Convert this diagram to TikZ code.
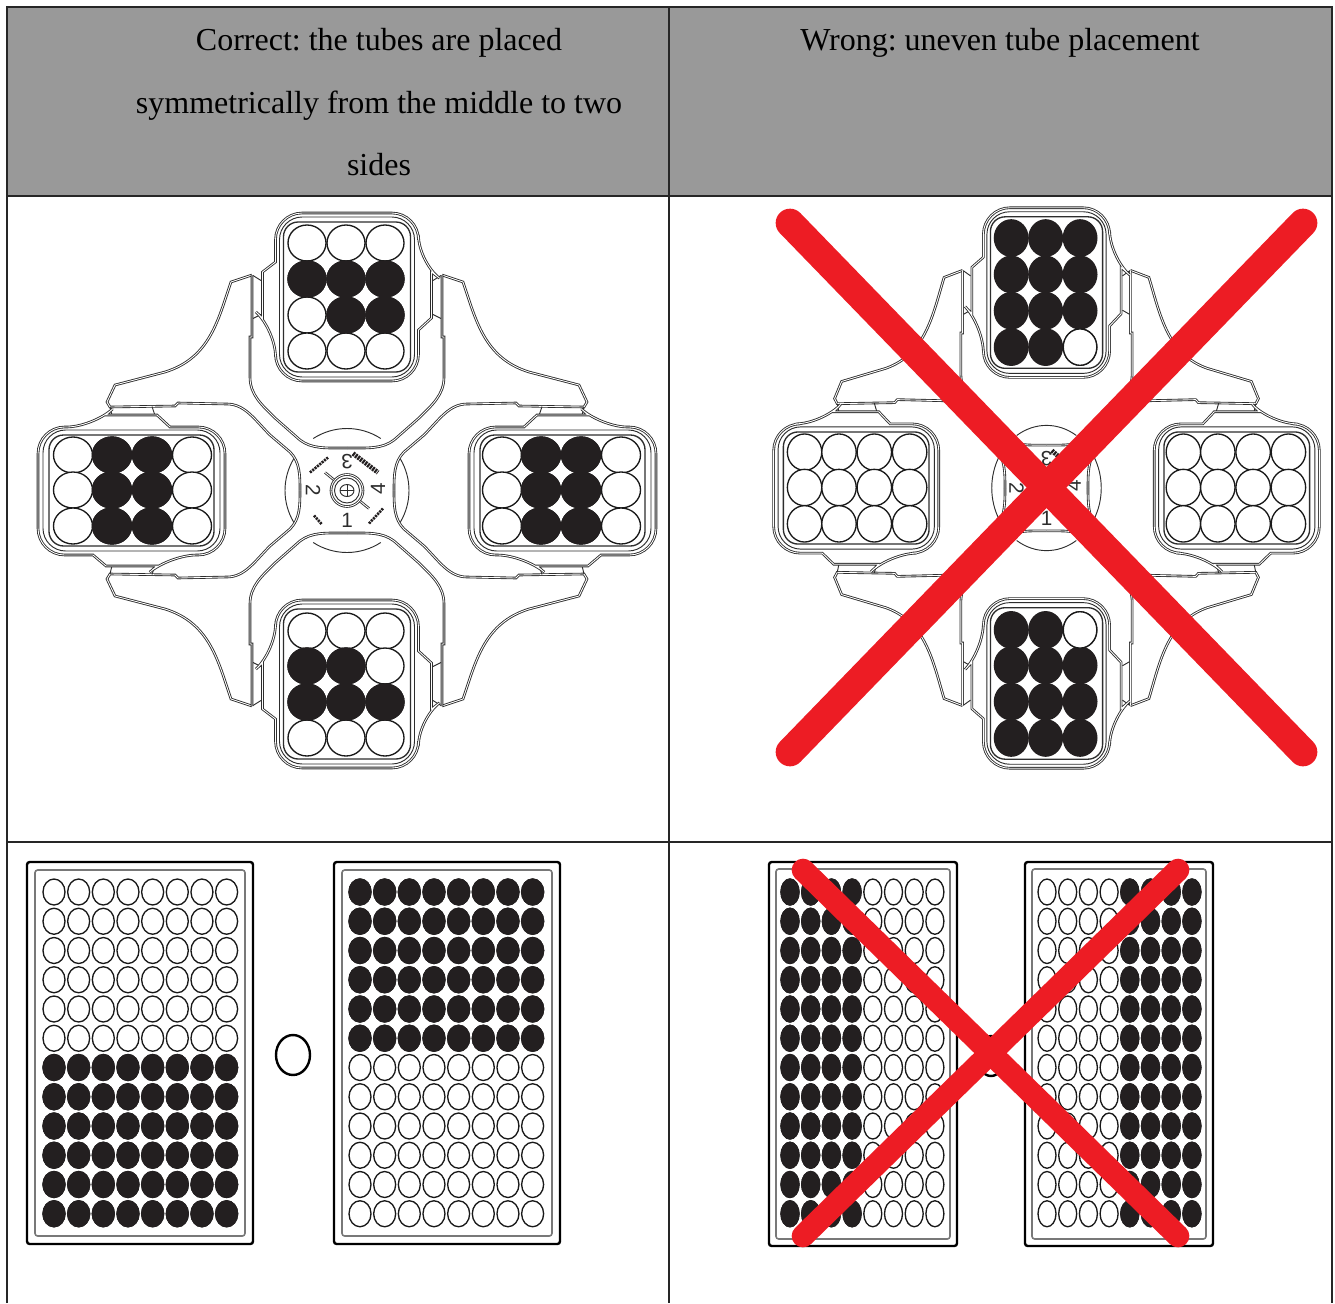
\documentclass[tikz,border=0pt]{standalone}
\usepackage{fontspec}
\setmainfont{Liberation Serif}
\setsansfont{Liberation Sans}
\definecolor{tableGray}{RGB}{153, 153, 153}
\definecolor{crossRed}{RGB}{237, 28, 36}
\definecolor{wellBlack}{RGB}{35, 31, 32}
\definecolor{rotorLine}{RGB}{45, 45, 45}
\definecolor{plateGray}{RGB}{120, 120, 120}
\tikzset{
  rule/.style={draw=black!85, line width=1.1pt},
  heading/.style={font=\fontsize{24}{47}\selectfont\frenchspacing, align=center, anchor=north, inner sep=0pt},
  rotorpath/.style={draw=rotorLine, line width=0.65pt, double=white, double distance=0.65pt},
  rotorthin/.style={draw=rotorLine, line width=0.7pt},
  rotorinner/.style={draw=rotorLine, line width=1pt},
  wellopen/.style={draw=black!90, fill=white, line width=1pt},
  wellfull/.style={draw=wellBlack, fill=wellBlack, line width=1pt},
  hubdigit/.style={font=\sffamily\fontsize{15.5}{16}\selectfont, text=rotorLine, inner sep=0pt},
  hubmark/.style={draw=wellBlack, line width=2pt, dash pattern=on 1.6pt off 0.7pt},
  plateouter/.style={draw=black, line width=1.8pt, rounded corners=2pt},
  plateinner/.style={draw=plateGray, line width=1.2pt, rounded corners=2pt},
  bigcross/.style={draw=crossRed, line width=21.5pt, line cap=round},
  smallcross/.style={draw=crossRed, line width=17pt, line cap=round}
}
\newcommand{\rotorbody}[1]{%
  \foreach \sx/\sy in {1/1,-1/1,1/-1,-1/-1} {
    \begin{scope}[xscale=\sx, yscale=\sy]
      \draw[rotorpath] (-95,-215.5) -- (-116,-208.5) .. controls (-129,-170.5) and (-137,-132.5) .. (-182,-118.5)
        -- (-232,-105.5) -- (-240,-88.5) -- (-237,-83.5) -- (-172,-84.5) -- (-169,-87.5) -- (-120,-86.5)
        .. controls (-102,-86.5) and (-92,-70.5) .. (-77,-55.5) -- (-57,-38.5) .. controls (-47,-28.5) and (-47,-15) .. (-47,0);
      \draw[rotorpath] (-95,-215.5) -- (-95,-153.5) -- (-97,-153.5) -- (-97,-113.5)
        .. controls (-97,-95.5) and (-85,-85.5) .. (-72,-72.5) -- (-47,-50.5) .. controls (-35,-41.5) and (-22,-42.5) .. (0,-42.5);
      \draw[rotorthin] (-94,-215) -- (-86,-210) (-94,-172) -- (-86,-176) (-237,-83.5) -- (-235,-75) (-195,-84) -- (-192,-75);
    \end{scope}
  }
  \draw[rotorthin] (0,0) ++(57:62) arc[start angle=57, end angle=123, radius=62];
  \draw[rotorthin] (0,0) ++(237:62) arc[start angle=237, end angle=303, radius=62];
  \draw[rotorthin] (0,0) ++(149:62) arc[start angle=149, end angle=211, radius=62];
  \draw[rotorthin] (0,0) ++(-31:62) arc[start angle=-31, end angle=31, radius=62];
  \foreach \sy in {1,-1} {
    \begin{scope}[yscale=\sy]
      \draw[rotorpath, fill=white] (-71.5,-228.5) [rounded corners=20pt] -- (-71.5,-277.5) -- (71.5,-277.5) -- (71.5,-228.5) [sharp corners]
        -- (84.5,-218.5) -- (84.5,-172.5) -- (71.5,-160.5) [rounded corners=20pt] -- (71.5,-109.5) -- (-71.5,-109.5) -- (-71.5,-160.5) [sharp corners]
        -- (-84.5,-172.5) -- (-84.5,-218.5) -- cycle;
      \draw[rotorthin, rounded corners=17pt] (-67.5,-273.5) rectangle (67.5,-113.5);
      \draw[rotorinner, rounded corners=11pt] (-63.5,-268.5) rectangle (63.5,-118.5);
    \end{scope}
  }
  \foreach \sx in {1,-1} {
    \begin{scope}[xscale=\sx]
      \draw[rotorpath, fill=white] (-254,-63.5) -- (-241,-75.5) -- (-190,-75.5) -- (-177,-63.5) [rounded corners=20pt]
        -- (-122,-63.5) -- (-122,64.5) -- (-177,64.5) [sharp corners] -- (-190,75.5) -- (-241,75.5) -- (-254,64.5) [rounded corners=20pt]
        -- (-309,64.5) -- (-309,-63.5) -- cycle;
      \draw[rotorthin, rounded corners=17pt] (-304,-60.5) rectangle (-127,60.5);
      \draw[rotorinner, rounded corners=11pt] (-298,-55.5) rectangle (-133,55.5);
    \end{scope}
  }
  \draw[rotorpath] (-22,-18) -- (22,18);
  \draw[rotorpath, fill=white] (0,0) circle[radius=16];
  \draw[rotorthin] (0,0) circle[radius=12.5];
  \draw[rotorthin] (0,0) ellipse[x radius=7, y radius=6];
  \draw[rotorthin] (-7,0) -- (7,0) (0,-6) -- (0,6);
  \node[hubdigit, rotate=180] (#1three) at (0,-29) {3};
  \node[hubdigit, rotate=-90] (#1two) at (-34,0) {2};
  \node[hubdigit] (#1one) at (0,30) {1};
  \node[hubdigit, rotate=90] (#1four) at (31,-2) {4};
  \draw[hubmark] (-37,-18) -- (-19,-33);
  \draw[hubmark, line width=3.5pt] (6,-37) -- (31,-18);
  \draw[hubmark] (22,33) -- (36,18);
  \draw[hubmark] (-33,25) -- (-25,34);
}
\newcommand{\wellgrid}[6]{%
  \foreach \c in {#4} {
    \foreach \r in {#5} {
      \draw[#6] (#1+\c*#2, 892+\r*29.25) ellipse[x radius=#3, y radius=13];
    }
  }
}
\begin{document}
\begin{tikzpicture}[x=0.75pt, y=-0.75pt]
  \useasboundingbox (0,0) rectangle (1335,1303);
  \fill[tableGray] (7,7) rectangle (1332,196);
  \draw[rule] (7,1303) -- (7,7) -- (1332,7) -- (1332,1303);
  \draw[rule] (669,7) -- (669,1303);
  \draw[rule] (7,196) -- (1332,196);
  \draw[rule] (7,842) -- (1332,842);
  \node[heading] (correct) at (379,28) {Correct: the tubes are placed\\symmetrically from the middle to two\\sides};
  \node[heading] (wrong) at (1000,28) {Wrong: uneven tube placement};

  \begin{scope}[shift={(347,490.5)}]
    \rotorbody{lf}
    \foreach \x in {-40,-1,38} {
      \foreach \y in {-247.5,-211.5,-175.5,-139.5,140.5,175.5,211.5,247.5} {
        \draw[wellopen] (\x,\y) ellipse[x radius=19, y radius=18];
      }
    }
    \foreach \x/\y in {-40/-211.5,-1/-211.5,38/-211.5,-1/-175.5,38/-175.5,-40/175.5,-1/175.5,-40/211.5,-1/211.5,38/211.5} {
      \draw[wellfull] (\x,\y) ellipse[x radius=19, y radius=18];
    }
    \foreach \x in {-274,-235,-195,-155,155,194,234,274} {
      \foreach \y in {-35.5,-0.5,35.5} {
        \draw[wellopen] (\x,\y) ellipse[x radius=19.5, y radius=18];
      }
    }
    \foreach \x in {-235,-195,194,234} {
      \foreach \y in {-35.5,-0.5,35.5} {
        \draw[wellfull] (\x,\y) ellipse[x radius=19.5, y radius=18];
      }
    }
  \end{scope}

  \begin{scope}[shift={(1046.5,488)}, xscale=0.883, yscale=1.01]
    \rotorbody{rt}
    \foreach \x in {-40,-1,38} {
      \foreach \y in {-247.5,-211.5,-175.5,-139.5,140.5,175.5,211.5,247.5} {
        \draw[wellfull] (\x,\y) ellipse[x radius=19, y radius=18];
      }
    }
    \foreach \x/\y in {38/-139.5,38/140.5} {
      \draw[wellopen] (\x,\y) ellipse[x radius=19, y radius=18];
    }
    \foreach \x in {-274,-235,-195,-155,155,194,234,274} {
      \foreach \y in {-35.5,-0.5,35.5} {
        \draw[wellopen] (\x,\y) ellipse[x radius=19.5, y radius=18];
      }
    }
  \end{scope}

  \draw[plateouter] (27,862) rectangle (253,1244);
  \draw[plateinner] (35,870) rectangle (245,1236);
  \wellgrid{54}{24.66}{11}{0,...,7}{0,...,11}{wellopen}
  \wellgrid{54}{24.66}{11}{0,...,7}{6,...,11}{wellfull}
  \draw[plateouter] (334,862) rectangle (560,1244);
  \draw[plateinner] (342,870) rectangle (552,1236);
  \wellgrid{360}{24.66}{11}{0,...,7}{0,...,11}{wellopen}
  \wellgrid{360}{24.66}{11}{0,...,7}{0,...,5}{wellfull}
  \draw[draw=black, line width=1.8pt] (293,1055) ellipse[x radius=17, y radius=20];

  \draw[plateouter] (769,862) rectangle (957,1246);
  \draw[plateinner] (776,869) rectangle (950,1239);
  \wellgrid{790}{20.7}{9}{0,...,7}{0,...,11}{wellopen}
  \wellgrid{790}{20.7}{9}{0,...,3}{0,...,11}{wellfull}
  \draw[plateouter] (1025,862) rectangle (1213,1246);
  \draw[plateinner] (1032,869) rectangle (1206,1239);
  \wellgrid{1047}{20.7}{9}{0,...,7}{0,...,11}{wellopen}
  \wellgrid{1047}{20.7}{9}{4,...,7}{0,...,11}{wellfull}
  \draw[draw=black, line width=1.8pt] (991,1056) ellipse[x radius=14, y radius=20];

  \draw[bigcross] (790,223) -- (1303,752);
  \draw[bigcross] (1303,223) -- (790,752);
  \draw[smallcross] (803,870) -- (1178,1236);
  \draw[smallcross] (1178,870) -- (803,1236);
\end{tikzpicture}
\end{document}
